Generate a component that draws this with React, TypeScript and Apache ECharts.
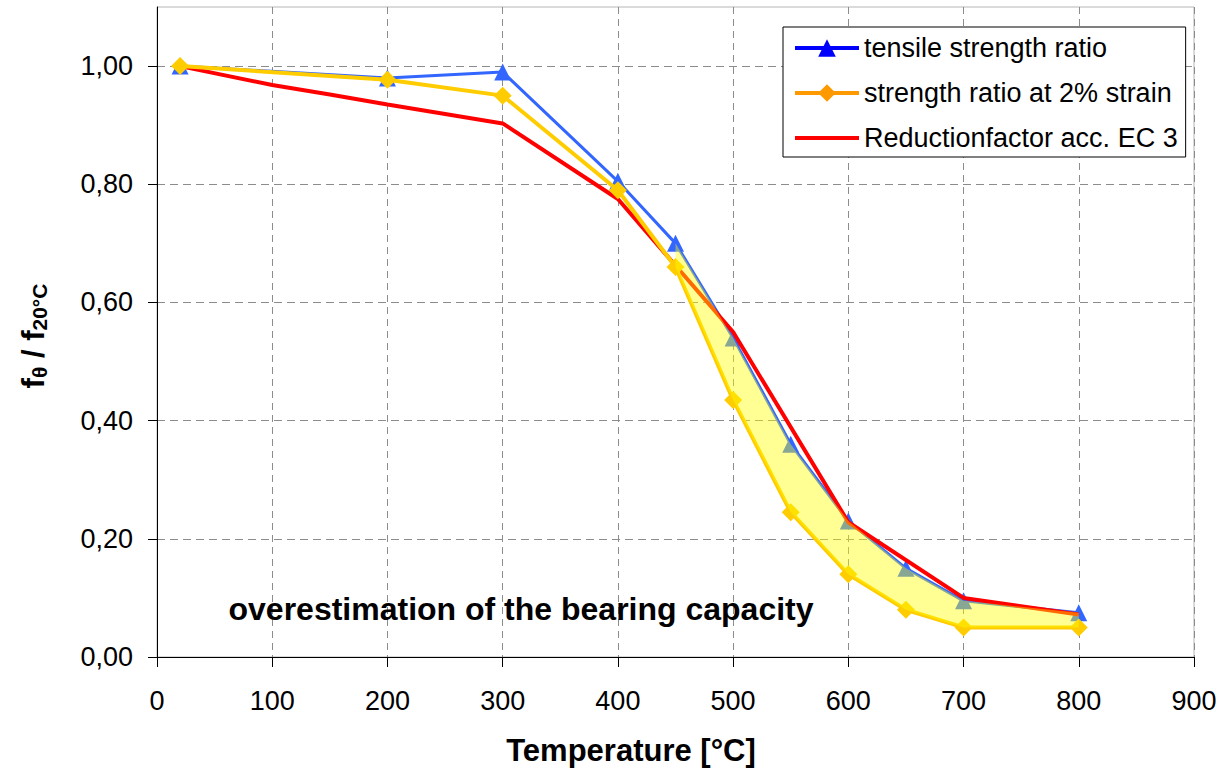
import React, { useEffect, useRef } from "react";
import * as echarts from "echarts";

// Temperatures of the test points [°C]
const testTemps = [20, 200, 300, 400, 450, 500, 550, 600, 650, 700, 800];
// Ratio of tensile strength at θ to tensile strength at 20 °C
const tensileRatio = [1.0, 0.98, 0.99, 0.805, 0.7, 0.54, 0.36, 0.23, 0.15, 0.095, 0.075];
// Ratio of strength at 2 % strain
const strain2Ratio = [1.0, 0.977, 0.95, 0.79, 0.66, 0.435, 0.245, 0.14, 0.08, 0.05, 0.05];
// Reduction factor according to EC 3
const ec3Temps = [20, 100, 150, 200, 300, 400, 500, 600, 700, 800];
const ec3Factor = [1.0, 0.968, 0.952, 0.935, 0.903, 0.775, 0.55, 0.228, 0.1, 0.072];
// Index range of the shaded zone between the two measured curves
const shadeFrom = 4;
const shadeTo = 10;

const xTicks = [0, 100, 200, 300, 400, 500, 600, 700, 800, 900];
const yTicks = [0, 0.2, 0.4, 0.6, 0.8, 1.0];

const FONT = '"Liberation Sans", Arial, sans-serif';

export default function App() {
  const ref = useRef<HTMLDivElement>(null);

  useEffect(() => {
    if (!ref.current) return;
    const chart = echarts.init(ref.current, undefined, { renderer: "svg" });

    const tensileData = testTemps.map((t, i) => [t, tensileRatio[i]]);
    const strainData = testTemps.map((t, i) => [t, strain2Ratio[i]]);
    const ec3Data = ec3Temps.map((t, i) => [t, ec3Factor[i]]);

    const option: any = {
      animation: false,
      backgroundColor: "#ffffff",
      grid: {
        left: 157,
        right: 29,
        top: 7,
        bottom: 113,
        show: true,
        borderColor: "#b5b5b5",
        borderWidth: 1,
        backgroundColor: "transparent",
      },
      xAxis: {
        type: "value",
        min: xTicks[0],
        max: xTicks[xTicks.length - 1],
        interval: 100,
        axisLine: { show: true, lineStyle: { color: "#000", width: 1 } },
        axisTick: { show: true, length: 10, lineStyle: { color: "#000" } },
        axisLabel: {
          margin: 30,
          fontSize: 27,
          color: "#000",
          fontFamily: FONT,
        },
        splitLine: {
          show: true,
          lineStyle: { color: "#8c8c8c", type: [7, 5], width: 1 },
        },
      },
      yAxis: {
        type: "value",
        min: 0,
        max: 1.1,
        interval: 0.2,
        axisLine: { show: true, lineStyle: { color: "#000", width: 1 } },
        axisTick: {
          show: true,
          length: 9,
          lineStyle: { color: "#000" },
          customValues: yTicks,
        },
        axisLabel: {
          margin: 24,
          fontSize: 27,
          color: "#000",
          fontFamily: FONT,
          customValues: yTicks,
          formatter: (v: number) => v.toFixed(2).replace(".", ","),
        },
        splitLine: {
          show: true,
          lineStyle: { color: "#8c8c8c", type: [8, 5], width: 1 },
        },
      },
      legend: {
        left: 783,
        top: 27,
        orient: "vertical",
        backgroundColor: "#fff",
        borderColor: "#000",
        borderWidth: 1,
        borderRadius: 0,
        padding: [6, 8, 4, 10],
        itemWidth: 64,
        itemHeight: 22,
        itemGap: 15,
        textStyle: { fontSize: 27, lineHeight: 30, color: "#000", fontFamily: FONT },
        data: [
          {
            name: "tensile strength ratio",
            itemStyle: { color: "#0000ff" },
            lineStyle: { color: "#0000ff", width: 4 },
          },
          {
            name: "strength ratio at 2% strain",
            itemStyle: { color: "#ff9900" },
            lineStyle: { color: "#ff9900", width: 4 },
          },
          {
            name: "Reductionfactor acc. EC 3",
            itemStyle: { color: "#ff0000", opacity: 0 },
            lineStyle: { color: "#ff0000", width: 4 },
          },
        ],
      },
      series: [
        {
          name: "tensile strength ratio",
          type: "line",
          data: tensileData,
          symbol: "triangle",
          symbolSize: 17,
          color: "#3366ff",
          lineStyle: { color: "#3366ff", width: 3 },
          itemStyle: { color: "#3366ff" },
          z: 2,
        },
        {
          name: "Reductionfactor acc. EC 3",
          type: "line",
          data: ec3Data,
          symbol: "none",
          color: "#ff0000",
          lineStyle: { color: "#ff0000", width: 4 },
          z: 3,
        },
        {
          name: "strength ratio at 2% strain",
          type: "line",
          data: strainData,
          symbol: "diamond",
          symbolSize: 18,
          color: "#ffcc00",
          lineStyle: { color: "#ffcc00", width: 4 },
          itemStyle: { color: "#ffcc00" },
          z: 4,
        },
        {
          name: "shade",
          type: "custom",
          z: 5,
          silent: true,
          data: [[testTemps[shadeFrom], strain2Ratio[shadeFrom]]],
          renderItem: (params: any, api: any) => {
            if (params.dataIndex !== 0) return null;
            const pts: number[][] = [];
            for (let i = shadeFrom; i <= shadeTo; i++) {
              pts.push(api.coord([testTemps[i], strain2Ratio[i]]));
            }
            for (let i = shadeTo; i >= shadeFrom; i--) {
              pts.push(api.coord([testTemps[i], tensileRatio[i]]));
            }
            return {
              type: "polygon",
              shape: { points: pts },
              style: { fill: "rgba(255,255,0,0.42)", stroke: "none" },
            };
          },
        },
      ],
      graphic: [
        {
          type: "text",
          x: 521,
          y: 609,
          style: {
            text: "overestimation of the bearing capacity",
            fontSize: 32,
            fontWeight: "bold",
            fontFamily: FONT,
            fill: "#000",
            align: "center",
            verticalAlign: "middle",
          },
          z: 10,
        },
        {
          type: "text",
          x: 631,
          y: 750,
          style: {
            text: "Temperature [°C]",
            fontSize: 31,
            fontWeight: "bold",
            fontFamily: FONT,
            fill: "#000",
            align: "center",
            verticalAlign: "middle",
          },
          z: 10,
        },
        {
          type: "text",
          x: 34,
          y: 336,
          rotation: Math.PI / 2,
          style: {
            text: "{m|f}{s|θ}{m| / f}{s|20°C}",
            align: "center",
            verticalAlign: "middle",
            fill: "#000",
            rich: {
              m: {
                fontSize: 31,
                fontWeight: "bold",
                fontFamily: FONT,
                lineHeight: 32,
                verticalAlign: "top",
              },
              s: {
                fontSize: 21,
                fontWeight: "bold",
                fontFamily: FONT,
                lineHeight: 22,
                padding: [14, 0, 0, 0],
                verticalAlign: "bottom",
              },
            },
          },
          z: 10,
        },
      ],
    };

    chart.setOption(option);
    return () => chart.dispose();
  }, []);

  return (
    <div
      ref={ref}
      style={{ position: "fixed", left: 0, top: 0, width: 1223, height: 770 }}
    />
  );
}
